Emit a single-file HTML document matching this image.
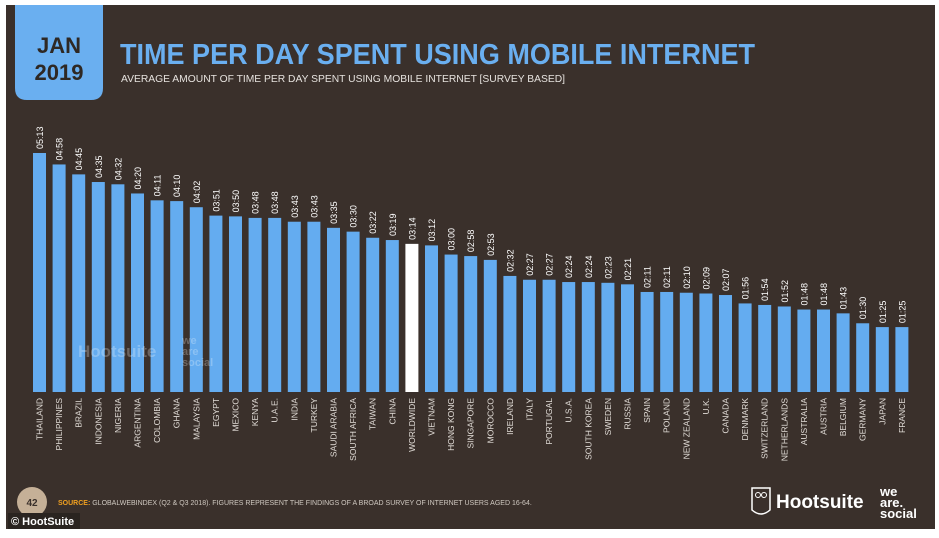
<!DOCTYPE html>
<html><head><meta charset="utf-8"><style>
html,body{margin:0;padding:0;background:#fff;width:939px;height:538px;overflow:hidden}
svg{display:block;font-family:"Liberation Sans",sans-serif}
</style></head><body>
<svg width="939" height="538">
<rect x="6" y="5" width="929" height="524" fill="#3a302b"/>
<path d="M15 5 H103 V88 Q103 100 91 100 H27 Q15 100 15 88 Z" fill="#6aaff0"/>
<text x="59" y="53" text-anchor="middle" font-size="22" font-weight="bold" fill="#2e2824">JAN</text>
<text x="59" y="80" text-anchor="middle" font-size="22" font-weight="bold" fill="#2e2824">2019</text>
<text x="120" y="64" font-size="29" font-weight="bold" fill="#6aaff0" textLength="635" lengthAdjust="spacingAndGlyphs">TIME PER DAY SPENT USING MOBILE INTERNET</text>
<text x="121" y="82" font-size="10" fill="#e6e2de" textLength="444" lengthAdjust="spacingAndGlyphs">AVERAGE AMOUNT OF TIME PER DAY SPENT USING MOBILE INTERNET [SURVEY BASED]</text>
<g id="bars"></g>
<g opacity="0.25" fill="#fff">
<text x="78" y="357" font-size="17" font-weight="bold">Hootsuite</text>
<text x="182" y="344" font-size="11" font-weight="bold">we</text>
<text x="182" y="355" font-size="11" font-weight="bold">are</text>
<text x="182" y="366" font-size="11" font-weight="bold">social</text>
</g>
<circle cx="32" cy="502" r="15" fill="#c5b097"/>
<text x="32" y="506" text-anchor="middle" font-size="10" font-weight="bold" fill="#3a302b">42</text>
<text x="58" y="505" font-size="7" fill="#cfc8c0"><tspan fill="#f0a020" font-weight="bold">SOURCE:</tspan> GLOBALWEBINDEX (Q2 &amp; Q3 2018). FIGURES REPRESENT THE FINDINGS OF A BROAD SURVEY OF INTERNET USERS AGED 16-64.</text>
<rect x="8" y="513" width="72" height="16" fill="#2a2420"/>
<text x="11" y="525" font-size="11" font-weight="bold" fill="#fff">© HootSuite</text>
<path d="M752 488 H770 V510 Q761 518 752 510 Z" fill="none" stroke="#fff" stroke-width="1.5"/>
<circle cx="758" cy="495" r="2.5" fill="none" stroke="#fff"/>
<circle cx="764" cy="495" r="2.5" fill="none" stroke="#fff"/>
<text x="776" y="508" font-size="19" font-weight="bold" fill="#fff">Hootsuite</text>
<text x="880" y="496" font-size="13" font-weight="bold" fill="#fff">we</text>
<text x="880" y="507" font-size="13" font-weight="bold" fill="#fff">are.</text>
<text x="880" y="518" font-size="13" font-weight="bold" fill="#fff">social</text>
</svg>
<script>
const countries=["THAILAND","PHILIPPINES","BRAZIL","INDONESIA","NIGERIA","ARGENTINA","COLOMBIA","GHANA","MALAYSIA","EGYPT","MEXICO","KENYA","U.A.E.","INDIA","TURKEY","SAUDI ARABIA","SOUTH AFRICA","TAIWAN","CHINA","WORLDWIDE","VIETNAM","HONG KONG","SINGAPORE","MOROCCO","IRELAND","ITALY","PORTUGAL","U.S.A.","SOUTH KOREA","SWEDEN","RUSSIA","SPAIN","POLAND","NEW ZEALAND","U.K.","CANADA","DENMARK","SWITZERLAND","NETHERLANDS","AUSTRALIA","AUSTRIA","BELGIUM","GERMANY","JAPAN","FRANCE"];
const minutes=[313,298,285,275,272,260,251,250,242,231,230,228,228,223,223,215,210,202,199,194,192,180,178,173,152,147,147,144,144,143,141,131,131,130,129,127,116,114,112,108,108,103,90,85,85];
const highlight="WORLDWIDE";
const NS="http://www.w3.org/2000/svg";
const g=document.getElementById("bars");
const x0=33,pitch=19.6,bw=13,base=392,scale=239/313;
function xPos(i){return x0+i*pitch;}
function yPos(v){return base-v*scale;}
function fmt(m){const h=Math.floor(m/60),mm=m%60;return String(h).padStart(2,"0")+":"+String(mm).padStart(2,"0");}
countries.forEach((c,i)=>{
  const v=minutes[i],x=xPos(i),y=yPos(v);
  const r=document.createElementNS(NS,"rect");
  r.setAttribute("x",x);r.setAttribute("y",y);r.setAttribute("width",bw);r.setAttribute("height",base-y);
  r.setAttribute("fill",c===highlight?"#ffffff":"#64acf0");
  
  
  g.appendChild(r);
  const t=document.createElementNS(NS,"text");
  const cx=x+bw/2+3.5,cy=y-4;
  t.setAttribute("transform","translate("+cx+","+cy+") rotate(-90)");
  t.setAttribute("font-size","9");t.setAttribute("fill","#fff");
  t.setAttribute("font-family","Liberation Sans Narrow, Liberation Sans, sans-serif");
  t.textContent=fmt(v);
  
  
  g.appendChild(t);
  const l=document.createElementNS(NS,"text");
  l.setAttribute("transform","translate("+(x+bw/2+3)+",398) rotate(-90)");
  l.setAttribute("text-anchor","end");l.setAttribute("font-size","8.5");l.setAttribute("fill","#e0dbd6");
  l.textContent=c;
  
  
  g.appendChild(l);
});
</script>
</body></html>
